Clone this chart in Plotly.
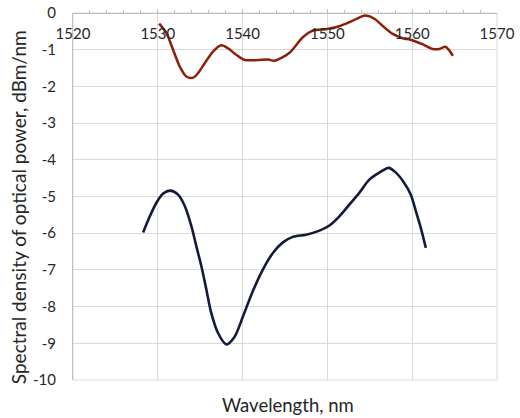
import plotly.graph_objects as go

# Data
red_x = [1530.16, 1531.02, 1531.80, 1532.59, 1533.37, 1534.16, 1534.74, 1535.53, 1536.51,
         1537.49, 1538.27, 1539.25, 1540.24, 1541.8,
         1543.0, 1543.8, 1545.5, 1547.1, 1548.3, 1549.8, 1551.4, 1552.6, 1553.8, 1554.5,
         1555.5, 1556.7, 1557.7, 1558.9, 1559.8, 1561.2, 1562.4, 1563.2, 1563.9, 1564.3, 1564.8]
red_y = [-0.29, -0.55, -1.00, -1.46, -1.73, -1.76, -1.64, -1.37, -1.05,
         -0.88, -0.96, -1.14, -1.28, -1.28,
         -1.27, -1.30, -1.09, -0.66, -0.48, -0.44, -0.36, -0.25, -0.12, -0.07,
         -0.15, -0.39, -0.57, -0.69, -0.73, -0.85, -0.98, -0.98, -0.92, -1.00, -1.17]

blue_x = [1528.27, 1529.06, 1529.84, 1530.63, 1531.49, 1532.39, 1533.18, 1533.96, 1534.55,
          1535.14, 1535.73, 1536.31, 1537.10, 1538.08, 1539.06, 1540.04, 1541.2, 1542.39,
          1543.57, 1544.75, 1545.92, 1547.49, 1549.06, 1550.24, 1551.41, 1552.59, 1553.76,
          1554.94, 1556.12, 1557.22, 1558.08, 1559.06, 1559.84, 1560.43, 1561.02, 1561.61]
blue_y = [-5.98, -5.54, -5.17, -4.92, -4.84, -4.95, -5.26, -5.81, -6.36,
          -6.90, -7.54, -8.18, -8.72, -9.03, -8.82, -8.27, -7.58, -6.99,
          -6.54, -6.25, -6.10, -6.04, -5.93, -5.79, -5.54, -5.22, -4.90,
          -4.54, -4.35, -4.22, -4.35, -4.63, -4.95, -5.40, -5.86, -6.40]

x_ticks = [1520, 1530, 1540, 1550, 1560, 1570]
y_ticks = [0, -1, -2, -3, -4, -5, -6, -7, -8, -9, -10]
y_ticktext = ["0", "-1", "-2", "-3", "-4", "-5", "-6", "-7", "-8", "-9", "-10"]

FONT = "Lato, 'Open Sans', sans-serif"
GRID = "#d9d9d9"
AXIS = "#bfbfbf"
TXT = "#262626"

fig = go.Figure()
fig.add_trace(go.Scatter(x=red_x, y=red_y, mode="lines",
                         line=dict(color="#8f2008", width=2.5, shape="spline", smoothing=0.8)))
fig.add_trace(go.Scatter(x=blue_x, y=blue_y, mode="lines",
                         line=dict(color="#141a3a", width=2.6, shape="spline", smoothing=0.8)))

fig.update_layout(
    width=520, height=418,
    margin=dict(l=73, r=23, t=13, b=38),
    paper_bgcolor="white", plot_bgcolor="white",
    showlegend=False,
    font=dict(family=FONT, color=TXT),
    xaxis=dict(
        side="bottom", anchor="free", position=1.0,
        range=[1520, 1570], tickvals=x_ticks,
        tickfont=dict(size=15, color=TXT), ticklabelstandoff=7,
        ticks="inside", ticklen=4, tickcolor=AXIS,
        minor=dict(dtick=2, ticks="inside", ticklen=3, tickcolor=AXIS, showgrid=False),
        showgrid=True, gridcolor=GRID, gridwidth=1,
        showline=True, linecolor=AXIS, linewidth=1,
        zeroline=False, automargin=False,
    ),
    yaxis=dict(
        range=[-10, 0], tickvals=y_ticks, ticktext=y_ticktext, ticks="",
        tickfont=dict(size=15, color=TXT), ticklabelstandoff=13,
        showgrid=True, gridcolor=GRID, gridwidth=1,
        showline=True, linecolor=AXIS, linewidth=1,
        zeroline=False, automargin=False,
    ),
    shapes=[dict(type="rect", xref="paper", yref="paper", x0=0, x1=1, y0=0, y1=1,
                 line=dict(color=GRID, width=1), layer="below")],
    annotations=[
        dict(text="Wavelength, nm", xref="paper", yref="paper",
             x=0.507, y=-0.068, xanchor="center", yanchor="middle",
             showarrow=False, font=dict(size=18.5, color=TXT)),
        dict(text="Spectral density of optical power, dBm/nm", xref="paper", yref="paper",
             x=-0.1297, y=0.471, xanchor="center", yanchor="middle", textangle=-90,
             showarrow=False, font=dict(size=19, color=TXT)),
    ],
)

fig.write_html("out.html")
